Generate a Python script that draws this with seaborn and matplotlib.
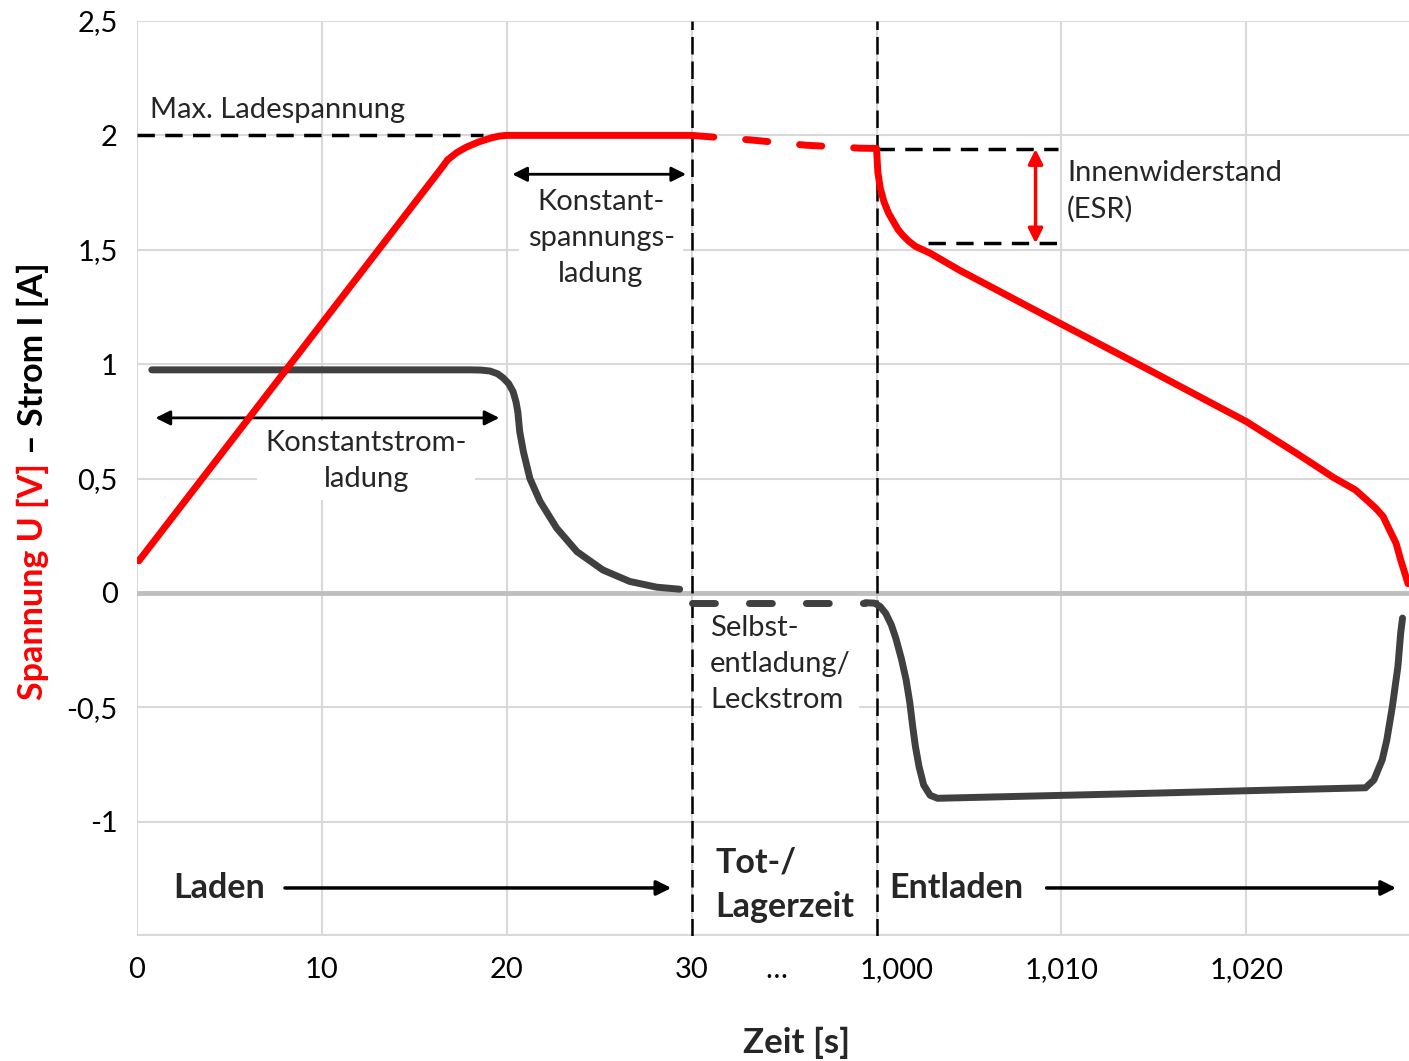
import numpy as np
import pandas as pd
import seaborn as sns
import matplotlib.pyplot as plt
from matplotlib.transforms import ScaledTranslation

# time axis is compressed: 0..30 s charge, gap, 1000 s shown at 40
charge_t = [0.1, 16.5, 16.8, 17.3, 17.8, 18.5, 19.2, 19.6, 20.0, 30.0]
charge_u = [0.14, 1.86, 1.893, 1.925, 1.948, 1.972, 1.99, 1.997, 2.0, 2.0]

rest_t = [30.0, 33.2, 36.2, 39.1, 40.0]
rest_u = [2.0, 1.98, 1.957, 1.944, 1.943]

discharge_t = [40.0, 40.07, 40.2, 40.4, 40.65, 40.9, 41.15, 41.4, 41.75, 42.1, 42.9,
               44.5, 50.0, 54.8, 60.0, 62.7, 63.8, 64.7, 65.9, 66.5, 67.0, 67.4, 67.7,
               68.1, 68.35, 68.6, 68.75]
discharge_u = [1.943, 1.84, 1.77, 1.71, 1.66, 1.625, 1.59, 1.565, 1.537, 1.515, 1.485,
               1.41, 1.175, 0.972, 0.749, 0.611, 0.553, 0.505, 0.45, 0.407, 0.37, 0.334,
               0.283, 0.217, 0.144, 0.079, 0.04]

charge_i_t = [0.8, 18.0, 18.6, 19.08, 19.5, 19.8, 20.1, 20.34, 20.5, 20.6, 20.7, 20.9,
              21.25, 21.8, 22.7, 23.8, 25.2, 26.65, 28.1, 29.35]
charge_i = [0.975, 0.975, 0.974, 0.97, 0.958, 0.94, 0.915, 0.88, 0.835, 0.79, 0.705,
            0.617, 0.5, 0.4, 0.283, 0.18, 0.1, 0.05, 0.025, 0.016]

rest_i_t = [30.0, 39.4]
rest_i = [-0.043, -0.043]

discharge_i_t = [39.4, 39.9, 40.2, 40.5, 40.8, 41.05, 41.35, 41.6, 41.8, 41.95, 42.1,
                 42.3, 42.55, 42.9, 43.3, 54.8, 60.0, 66.45, 66.9, 67.35, 67.6, 67.9,
                 68.2, 68.35, 68.45]
discharge_i = [-0.043, -0.045, -0.06, -0.09, -0.14, -0.2, -0.29, -0.38, -0.48, -0.58,
               -0.67, -0.76, -0.84, -0.885, -0.898, -0.876, -0.865, -0.852, -0.818,
               -0.73, -0.643, -0.497, -0.322, -0.176, -0.11]

x_ticks = [0, 10, 20, 30, 40, 50, 60]
x_labels = ["0", "10", "20", "30", "1,000", "1,010", "1,020"]
y_ticks = [-1.5, -1, -0.5, 0, 0.5, 1, 1.5, 2, 2.5]
y_labels = ["", "-1", "-0,5", "0", "0,5", "1", "1,5", "2", "2,5"]

RED = "#ff0000"
GRAY = "#404040"

sns.set_style("white")
plt.rcParams["font.family"] = ["Lato", "DejaVu Sans"]

W, H = 1409, 1061
fig = plt.figure(figsize=(W / 100, H / 100), dpi=100)
ax = fig.add_axes([137 / W, 1 - 936 / H, (1409 - 137) / W, (936 - 21) / H])

ax.set_xlim(0, 68.8)
ax.set_ylim(-1.5, 2.5)
for s in ax.spines.values():
    s.set_visible(False)

ax.set_xticks(x_ticks)
ax.set_xticklabels(x_labels)
ax.set_xticks([34.6], minor=True)
ax.set_xticklabels(["…"], minor=True)
ax.set_yticks(y_ticks)
ax.set_yticklabels(y_labels)
ax.tick_params(axis="both", which="both", length=0, labelsize=21, colors="black")
ax.tick_params(axis="x", which="both", pad=15)
ax.tick_params(axis="y", pad=14)
ax.grid(True, which="major", color="#d9d9d9", lw=1.5, zorder=0)
ax.set_axisbelow(True)
ax.axhline(0, color="#bfbfbf", lw=3.5, zorder=1)
ax.axhline(-1.5, color="#d9d9d9", lw=3, zorder=1)

# nudge the "1,000" label to the right like in the original
lab = ax.get_xticklabels()[4]
lab.set_transform(lab.get_transform() + ScaledTranslation(0.2, 0, fig.dpi_scale_trans))

# phase separators
vdash = (0, (7, 2.8))
ax.vlines([30, 40], -1.5, 2.5, colors="black", lw=1.8, linestyles=[vdash], zorder=4)

# curves
line_kw = dict(sort=False, estimator=None, ax=ax, lw=5,
               solid_capstyle="round", solid_joinstyle="round", legend=False)
sns.lineplot(x=charge_i_t, y=charge_i, color=GRAY, zorder=5, **line_kw)
sns.lineplot(x=discharge_i_t, y=discharge_i, color=GRAY, zorder=5, **line_kw)
sns.lineplot(x=rest_i_t, y=rest_i, color=GRAY, zorder=5, linestyle=(0, (3.3, 4.9)),
             dash_capstyle="round", **line_kw)
sns.lineplot(x=charge_t, y=charge_u, color=RED, zorder=6, **line_kw)
sns.lineplot(x=discharge_t, y=discharge_u, color=RED, zorder=6, **line_kw)
sns.lineplot(x=rest_t, y=rest_u, color=RED, zorder=6, linestyle=(0, (3.2, 4.6)),
             dash_capstyle="round", **line_kw)

# annotation helper lines
hdash = (0, (5, 3))
ax.hlines(2.0, 0, 18.7, colors="black", lw=2.5, linestyles=[hdash], zorder=4)
ax.hlines(1.94, 40, 49.8, colors="black", lw=2.5, linestyles=[hdash], zorder=4)
ax.hlines(1.528, 42.8, 49.8, colors="black", lw=2.5, linestyles=[hdash], zorder=4)

arrow_k = dict(arrowstyle="<|-|>", color="black", lw=2, mutation_scale=22,
               shrinkA=0, shrinkB=0)
ax.annotate("", xy=(20.3, 1.83), xytext=(29.7, 1.83), arrowprops=arrow_k, zorder=5)
ax.annotate("", xy=(1.0, 0.765), xytext=(19.6, 0.765), arrowprops=arrow_k, zorder=5)
ax.annotate("", xy=(48.6, 1.94), xytext=(48.6, 1.528),
            arrowprops=dict(arrow_k, color=RED, lw=2.5), zorder=5)

one_way = dict(arrowstyle="-|>", color="black", lw=2.5, mutation_scale=22,
               shrinkA=0, shrinkB=0)
ax.annotate("", xy=(28.9, -1.29), xytext=(8.0, -1.29), arrowprops=one_way)
ax.annotate("", xy=(68.1, -1.29), xytext=(49.2, -1.29), arrowprops=one_way)

# texts
white = dict(facecolor="white", edgecolor="none", pad=6)
ax.text(0.7, 2.11, "Max. Ladespannung", fontsize=21, va="center", ha="left", zorder=3)
ax.text(25.1, 1.55, "Konstant-\nspannungs-\nladung", fontsize=21, ha="center",
        va="center", linespacing=1.47, bbox=white, zorder=3)
ax.text(12.4, 0.578, "Konstantstrom-\nladung", fontsize=21, ha="center",
        va="center", linespacing=1.47, bbox=white, zorder=3)
ax.text(31.0, -0.31, "Selbst-\nentladung/\nLeckstrom", fontsize=21, ha="left",
        va="center", linespacing=1.47, bbox=white, zorder=3)
ax.text(50.3, 1.755, "Innenwiderstand\n(ESR)", fontsize=21, ha="left",
        va="center", linespacing=1.47, zorder=3)

bold = dict(fontsize=24.5, fontweight="bold", va="center", ha="left")
ax.text(1.95, -1.29, "Laden", **bold)
ax.text(31.3, -1.275, "Tot-/\nLagerzeit", linespacing=1.5, **bold)
ax.text(40.7, -1.29, "Entladen", **bold)

# axis titles
fig.text(797 / W, 1 - 1043 / H, "Zeit [s]", fontsize=25, fontweight="bold",
         ha="center", va="center")
red_lab = fig.text(33 / W, 1 - 700 / H, "Spannung U [V]", color=RED, fontsize=24.5,
                   fontweight="bold", rotation=90, ha="center", va="bottom")
fig.canvas.draw()
top_px = red_lab.get_window_extent().y1
fig.text(33 / W, (top_px + 9) / H, "– Strom I [A]", color="black", fontsize=24.5,
         fontweight="bold", rotation=90, ha="center", va="bottom")

fig.savefig("out.png", dpi=100, facecolor="white")
